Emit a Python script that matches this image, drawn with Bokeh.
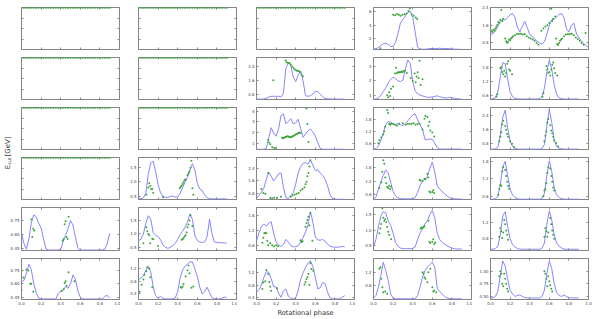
import math
from bokeh.plotting import figure
from bokeh.models import Range1d, FixedTicker, LinearAxis, Label
from bokeh.layouts import row, column
from bokeh.embed import file_html
from bokeh.resources import INLINE

# ---------------- data ----------------
PHASE = [0.0, 0.025, 0.05, 0.075, 0.1, 0.125, 0.15, 0.175, 0.2, 0.225,
         0.25, 0.275, 0.3, 0.325, 0.35, 0.375, 0.4, 0.425, 0.45, 0.475,
         0.5, 0.525, 0.55, 0.575, 0.6, 0.625, 0.65, 0.675, 0.7, 0.725,
         0.75, 0.775, 0.8, 0.825, 0.85, 0.875, 0.9]
PHASE_EXT = PHASE + [0.925, 0.95, 0.975, 1.0]

X_TICKS = [0.0, 0.2, 0.4, 0.6, 0.8, 1.0]
X_TICK_LABELS = ["0.0", "0.2", "0.4", "0.6", "0.8", "1.0"]

EMPTY_PANELS = ["R1C1", "R1C2", "R1C3", "R2C1", "R2C2", "R3C1", "R3C2", "R4C1"]
EMPTY_E = [1.0] * 37  # all E_cut values sit at the top of these panels

# light curves (blue)
R1C4_LC = [0.55, 0.58, 0.75, 1.05, 1.3, 1.38, 1.2, 0.9, 0.9, 1.5,
           2.8, 4.3, 4.8, 5.3, 5.8, 6.0, 5.1, 3.0, 0.8, 0.55,
           0.5, 0.5, 0.55, 0.6, 0.62, 0.6, 0.62, 0.65, 0.62, 0.6,
           0.62, 0.58, 0.55, 0.52, 0.5, 0.5, 0.5]
R1C5_LC = [1.18, 1.22, 1.35, 1.55, 1.78, 1.85, 1.85, 1.95, 2.08, 2.13,
           1.95, 1.5, 1.3, 1.55, 1.78, 1.5, 1.18, 1.1, 0.98, 0.88,
           0.8, 0.74, 0.85, 1.2, 1.6, 1.85, 1.88, 1.98, 2.1, 2.13,
           1.95, 1.45, 1.3, 1.6, 1.7, 1.25, 1.05, 0.9, 0.78, 0.68,
           0.6]
R2C3_LC = [0.56, 0.56, 0.56, 0.57, 0.60, 0.68, 0.72, 0.72, 0.72, 0.72,
           0.68, 0.90, 2.30, 2.60, 2.45, 1.80, 1.55, 1.90, 2.15, 1.60,
           0.75, 0.72, 0.75, 0.85, 1.00, 0.98, 0.85, 0.70, 0.60, 0.58,
           0.57, 0.56, 0.56, 0.56, 0.56, 0.56, 0.56]
R2C4_LC = [0.72, 0.73, 0.80, 1.00, 1.25, 1.50, 1.85, 2.10, 2.25, 2.15,
           2.00, 1.95, 2.05, 2.80, 3.45, 3.20, 1.95, 1.30, 1.10, 1.00,
           0.95, 0.90, 0.85, 0.85, 0.88, 0.92, 0.95, 0.90, 0.85, 0.82,
           0.80, 0.85, 0.83, 0.78, 0.76, 0.74, 0.73]
R2C5_LC = [0.45, 0.46, 0.50, 0.75, 1.40, 2.00, 1.95, 1.30, 0.75, 0.55,
           0.48, 0.46, 0.45, 0.45, 0.45, 0.45, 0.45, 0.45, 0.45, 0.45,
           0.47, 0.55, 0.90, 1.60, 2.10, 1.70, 1.05, 0.65, 0.50, 0.47,
           0.45, 0.45, 0.45, 0.45, 0.45, 0.45, 0.45]
R3C3_LC = [0.42, 0.42, 0.42, 0.43, 0.50, 1.50, 2.45, 1.95, 1.65, 2.30,
           3.60, 3.75, 2.80, 3.05, 3.30, 2.80, 2.90, 3.25, 2.40, 1.55,
           1.85, 2.15, 2.32, 2.05, 1.65, 1.05, 0.50, 0.42, 0.42, 0.42,
           0.42, 0.42, 0.42, 0.42, 0.42, 0.42, 0.42]
R3C4_LC = [0.30, 0.32, 0.45, 0.75, 1.15, 1.55, 1.72, 1.68, 1.60, 1.55,
           1.62, 1.55, 1.50, 1.60, 1.75, 1.90, 2.05, 2.10, 1.80, 1.55,
           1.30, 0.80, 0.78, 0.82, 0.80, 0.60, 0.38, 0.31, 0.30, 0.30,
           0.30, 0.30, 0.30, 0.30, 0.30, 0.30, 0.30]
R3C5_LC = [0.50, 0.50, 0.52, 0.60, 1.30, 2.30, 2.70, 1.70, 0.95, 0.65,
           0.55, 0.51, 0.50, 0.50, 0.50, 0.50, 0.50, 0.50, 0.50, 0.50,
           0.50, 0.52, 0.75, 1.80, 2.75, 2.00, 1.00, 0.65, 0.55, 0.52,
           0.50, 0.50, 0.50, 0.50, 0.50, 0.50, 0.50]
R4C2_LC = [0.42, 0.42, 0.45, 0.60, 1.25, 1.65, 1.70, 1.35, 0.90, 0.62,
           0.50, 0.47, 0.46, 0.50, 0.50, 0.47, 0.48, 0.60, 0.80, 0.98,
           1.15, 1.40, 1.62, 1.40, 0.95, 0.75, 0.70, 0.55, 0.45, 0.42,
           0.41, 0.41, 0.41, 0.41, 0.41, 0.41, 0.41]
R4C3_LC = [0.50, 0.70, 0.90, 1.15, 1.70, 2.15, 1.90, 1.60, 1.80, 2.05,
           2.10, 1.20, 0.55, 0.50, 0.70, 0.85, 1.40, 2.10, 2.50, 2.70,
           2.75, 2.65, 2.90, 2.60, 2.25, 2.30, 2.10, 1.95, 1.70, 1.30,
           0.75, 0.50, 0.46, 0.45, 0.45, 0.45, 0.45]
R4C4_LC = [0.42, 0.50, 0.85, 1.15, 1.45, 1.68, 1.55, 1.15, 0.75, 0.55,
           0.47, 0.44, 0.43, 0.43, 0.43, 0.43, 0.44, 0.48, 0.70, 1.00,
           1.20, 1.28, 1.40, 1.75, 2.02, 1.60, 1.00, 0.85, 0.75, 0.65,
           0.55, 0.48, 0.45, 0.43, 0.42, 0.42, 0.42]
R4C5_LC = [0.50, 0.50, 0.52, 0.60, 1.00, 1.60, 1.80, 1.30, 0.85, 0.65,
           0.56, 0.52, 0.50, 0.50, 0.50, 0.50, 0.50, 0.50, 0.50, 0.50,
           0.50, 0.52, 0.70, 1.30, 1.82, 1.45, 0.90, 0.65, 0.56, 0.52,
           0.50, 0.50, 0.50, 0.50, 0.50, 0.50, 0.50]
R5C1_LC = [0.61, 0.50, 0.44, 0.55, 0.72, 0.81, 0.79, 0.72, 0.67, 0.55,
           0.44, 0.43, 0.43, 0.43, 0.43, 0.43, 0.44, 0.52, 0.59, 0.66,
           0.75, 0.70, 0.57, 0.45, 0.43, 0.43, 0.43, 0.43, 0.43, 0.43,
           0.43, 0.43, 0.43, 0.43, 0.44, 0.50, 0.61]
R5C2_LC = [0.75, 0.80, 1.00, 1.40, 1.68, 1.55, 1.05, 0.95, 0.90, 0.78,
           0.58, 0.50, 0.46, 0.50, 0.56, 0.65, 0.80, 0.97, 1.10, 1.25,
           1.45, 1.75, 1.55, 0.95, 0.75, 0.70, 0.68, 0.70, 0.90, 1.55,
           1.00, 0.70, 0.68, 0.67, 0.67, 0.66, 0.66]
R5C3_LC = [0.80, 1.10, 1.35, 1.47, 1.38, 1.50, 1.55, 1.10, 0.75, 0.62,
           0.57, 0.65, 0.85, 0.75, 0.60, 0.56, 0.56, 0.60, 0.74, 0.92,
           1.15, 1.42, 1.95, 1.55, 0.95, 0.83, 0.82, 0.85, 0.78, 0.66,
           0.58, 0.55, 0.54, 0.54, 0.55, 0.58, 0.55]
R5C4_LC = [0.45, 0.70, 1.10, 1.45, 1.60, 1.55, 1.30, 1.15, 0.90, 0.60,
           0.48, 0.42, 0.40, 0.40, 0.40, 0.40, 0.41, 0.45, 0.70, 0.90,
           1.05, 1.20, 1.30, 1.50, 1.63, 1.40, 0.90, 0.70, 0.60, 0.55,
           0.50, 0.45, 0.42, 0.40, 0.39, 0.39, 0.39]
R5C5_LC = [0.55, 0.55, 0.57, 0.62, 0.90, 1.35, 1.45, 1.10, 0.80, 0.66,
           0.60, 0.57, 0.55, 0.55, 0.55, 0.55, 0.55, 0.55, 0.55, 0.55,
           0.55, 0.57, 0.70, 1.15, 1.47, 1.25, 0.90, 0.70, 0.62, 0.58,
           0.55, 0.55, 0.55, 0.55, 0.55, 0.55, 0.55]
R6C1_LC = [0.62, 0.64, 0.72, 0.82, 0.76, 0.60, 0.50, 0.44, 0.43, 0.43,
           0.43, 0.43, 0.43, 0.43, 0.43, 0.49, 0.52, 0.53, 0.57, 0.55,
           0.60, 0.70, 0.65, 0.52, 0.45, 0.43, 0.43, 0.43, 0.43, 0.43,
           0.43, 0.43, 0.43, 0.43, 0.46, 0.47, 0.44]
R6C2_LC = [0.85, 0.90, 0.97, 1.15, 1.27, 1.10, 0.60, 0.32, 0.25, 0.30,
           0.24, 0.22, 0.22, 0.22, 0.22, 0.25, 0.45, 0.90, 1.15, 1.28,
           1.35, 1.42, 1.42, 1.20, 0.95, 0.60, 0.38, 0.45, 0.60, 0.42,
           0.26, 0.23, 0.22, 0.22, 0.24, 0.28, 0.25]
R6C3_LC = [0.58, 0.65, 0.80, 1.04, 1.22, 1.20, 1.00, 0.75, 0.74, 0.55,
           0.42, 0.62, 0.68, 0.45, 0.38, 0.37, 0.40, 0.62, 0.98, 1.18,
           1.35, 1.48, 1.56, 1.38, 1.05, 0.68, 0.72, 0.88, 0.85, 0.58,
           0.40, 0.37, 0.37, 0.37, 0.37, 0.42, 0.47]
R6C4_LC = [0.42, 0.50, 0.75, 1.10, 1.50, 1.25, 0.95, 0.55, 0.42, 0.40,
           0.40, 0.40, 0.40, 0.40, 0.40, 0.40, 0.40, 0.40, 0.50, 0.75,
           1.05, 1.25, 1.35, 1.43, 1.50, 1.35, 0.72, 0.62, 0.55, 0.47,
           0.43, 0.41, 0.40, 0.40, 0.40, 0.40, 0.40]
R6C5_LC = [0.47, 0.47, 0.50, 0.60, 0.90, 1.20, 1.10, 0.85, 0.62, 0.55,
           0.50, 0.52, 0.53, 0.50, 0.48, 0.47, 0.47, 0.47, 0.47, 0.47,
           0.47, 0.50, 0.62, 0.95, 1.20, 1.05, 0.75, 0.58, 0.52, 0.50,
           0.53, 0.50, 0.48, 0.47, 0.47, 0.47, 0.47]

# E_cut points (green): phase and value
R1C4_PX = [0.07, 0.2, 0.22, 0.24, 0.26, 0.276, 0.296, 0.316, 0.337, 0.357, 0.37, 0.39, 0.41, 0.43, 0.446]
R1C4_PY = [0.66, 5.5, 5.4, 5.6, 5.5, 5.33, 5.47, 5.57, 5.66, 6.04, 6.4, 5.57, 5.33, 5.1, 4.86]
R1C5_PX = [0.01, 0.02, 0.03, 0.04, 0.05, 0.06, 0.07, 0.08, 0.09, 0.10, 0.11, 0.12, 0.13,
           0.15, 0.16, 0.17, 0.18, 0.19, 0.20, 0.21, 0.22, 0.23, 0.25, 0.27, 0.29, 0.31, 0.33,
           0.35, 0.37, 0.39, 0.41, 0.43, 0.45, 0.47, 0.49,
           0.52, 0.54, 0.56, 0.58, 0.60, 0.62, 0.63, 0.64, 0.66,
           0.67, 0.68, 0.69, 0.70, 0.71, 0.72, 0.73, 0.75, 0.77, 0.79, 0.81, 0.83, 0.85,
           0.87, 0.89, 0.91, 0.93, 0.95, 0.97]
R1C5_PY = [1.35, 1.30, 1.40, 1.35, 1.45, 1.55, 1.62, 1.75, 1.70, 1.85, 2.30, 1.80, 1.90,
           1.00, 0.88, 0.80, 0.85, 0.95, 0.92, 1.00, 1.05, 1.10, 1.15, 1.20, 1.20, 1.22, 1.18,
           1.20, 1.10, 1.05, 1.00, 0.95, 0.90, 0.80, 0.72,
           1.35, 1.45, 1.55, 1.60, 1.70, 2.35, 1.80, 1.90, 2.00,
           1.00, 0.75, 0.70, 0.80, 0.90, 0.95, 1.00, 1.10, 1.18, 1.20, 1.20, 1.22, 1.15,
           1.05, 0.98, 0.90, 0.80, 0.72, 1.25]
R2C3_PX = [0.171, 0.298, 0.308, 0.322, 0.336, 0.349, 0.363, 0.377, 0.39, 0.404, 0.418, 0.432, 0.445, 0.459, 0.473]
R2C3_PY = [1.62, 2.73, 2.64, 2.59, 2.59, 2.51, 2.4, 2.31, 2.23, 2.18, 2.14, 2.14, 2.07, 1.95, 1.84]
R2C4_PX = [0.14, 0.15, 0.16, 0.17, 0.18, 0.20, 0.22, 0.23, 0.24, 0.25, 0.26, 0.27, 0.28, 0.29,
           0.30, 0.31, 0.32, 0.34, 0.38, 0.40, 0.42, 0.43, 0.44, 0.45, 0.46, 0.47, 0.48, 0.50]
R2C4_PY = [1.00, 0.85, 1.20, 0.95, 1.45, 1.60, 2.50, 2.90, 2.55, 2.60, 2.58, 2.62, 2.60, 2.65,
           2.62, 2.68, 2.70, 2.55, 2.20, 2.00, 2.50, 1.90, 2.30, 2.60, 2.20, 3.40, 1.70, 2.10]
R2C5_PX = [0.06, 0.07, 0.10, 0.11, 0.12, 0.13, 0.14, 0.15, 0.16, 0.17, 0.18, 0.19, 0.20, 0.22,
           0.53, 0.54, 0.57, 0.58, 0.59, 0.60, 0.61, 0.62, 0.63, 0.64, 0.65, 0.66, 0.68]
R2C5_PY = [0.55, 0.65, 1.75, 1.80, 1.60, 1.50, 1.65, 1.40, 1.55, 1.95, 2.05, 1.70, 1.65, 1.50,
           0.55, 0.70, 1.85, 1.70, 1.55, 1.60, 1.45, 1.70, 1.90, 2.00, 1.75, 1.55, 1.45]
R3C3_PX = [0.12, 0.13, 0.14, 0.16, 0.18, 0.20,
           0.26, 0.27, 0.28, 0.29, 0.30, 0.31, 0.32, 0.33, 0.34, 0.35,
           0.36, 0.37, 0.38, 0.39, 0.40, 0.41, 0.42, 0.43, 0.44, 0.45,
           0.51, 0.52, 0.53]
R3C3_PY = [1.30, 1.05, 0.90, 0.60, 0.55, 0.55,
           1.50, 1.45, 1.50, 1.55, 1.60, 1.62, 1.65, 1.60, 1.58, 1.55,
           1.60, 1.65, 1.70, 1.75, 1.80, 1.85, 1.90, 1.95, 2.00, 1.95,
           4.25, 2.80, 1.10]
R3C4_PX = [0.05, 0.06, 0.08, 0.10, 0.11, 0.12, 0.14, 0.15, 0.16, 0.17,
           0.18, 0.20, 0.22, 0.24, 0.26, 0.30, 0.33, 0.35, 0.37, 0.39,
           0.41, 0.43, 0.45, 0.47, 0.50, 0.52, 0.53, 0.55, 0.56, 0.57,
           0.58, 0.60, 0.62]
R3C4_PY = [0.60, 0.75, 0.90, 1.05, 1.20, 1.45, 2.30, 2.15, 1.60, 1.55,
           1.60, 1.58, 1.55, 1.50, 1.60, 1.62, 1.55, 1.60, 1.58, 1.60,
           1.62, 1.55, 1.58, 1.60, 1.30, 1.85, 2.00, 1.95, 1.50, 1.70,
           1.25, 1.15, 0.95]
R3C5_PX = [0.09, 0.10, 0.11, 0.12, 0.13, 0.15, 0.16, 0.17, 0.18, 0.20, 0.22, 0.24,
           0.55, 0.56, 0.57, 0.58, 0.59, 0.61, 0.62, 0.63, 0.64, 0.65, 0.67, 0.69]
R3C5_PY = [0.95, 1.20, 1.45, 1.90, 2.10, 1.80, 1.60, 1.35, 1.20, 0.95, 0.80, 0.60,
           0.95, 1.25, 1.50, 2.00, 2.20, 1.85, 1.55, 1.40, 1.20, 1.00, 0.85, 0.65]
R4C2_PX = [0.08, 0.10, 0.11, 0.12, 0.13, 0.14, 0.15, 0.25, 0.42, 0.43, 0.44,
           0.45, 0.46, 0.47, 0.48, 0.50, 0.51, 0.52, 0.53, 0.54, 0.55, 0.56]
R4C2_PY = [0.55, 0.80, 0.95, 0.85, 0.75, 0.75, 0.62, 0.47, 0.78, 0.82, 0.86,
           0.92, 0.98, 1.05, 1.08, 1.22, 1.30, 1.35, 1.48, 1.72, 0.78, 0.55]
R4C3_PX = [0.05, 0.07, 0.09, 0.12, 0.14, 0.16, 0.18, 0.21, 0.25, 0.35, 0.37, 0.39,
           0.41, 0.43, 0.45, 0.47, 0.49, 0.50, 0.51, 0.52, 0.53, 0.54, 0.55]
R4C3_PY = [1.10, 0.85, 0.80, 2.10, 0.55, 0.50, 0.55, 0.55, 0.62, 0.62, 0.70, 0.75,
           0.80, 0.85, 1.00, 1.10, 1.20, 1.40, 1.55, 1.90, 2.10, 2.50, 2.90]
R4C4_PX = [0.06, 0.08, 0.09, 0.10, 0.11, 0.12, 0.13, 0.14, 0.15, 0.16, 0.17, 0.18,
           0.47, 0.48, 0.50, 0.52, 0.53, 0.55, 0.56, 0.57, 0.58, 0.60, 0.61, 0.62]
R4C4_PY = [0.90, 1.15, 1.60, 2.10, 1.95, 1.35, 1.10, 0.95, 0.90, 1.00, 0.85, 0.95,
           1.25, 1.22, 1.20, 1.30, 1.28, 1.50, 1.35, 0.75, 0.70, 0.72, 0.80, 0.68]
R4C5_PX = [0.08, 0.09, 0.10, 0.11, 0.12, 0.13, 0.15, 0.16, 0.17, 0.18, 0.19,
           0.54, 0.55, 0.56, 0.57, 0.58, 0.59, 0.61, 0.62, 0.63, 0.64, 0.65]
R4C5_PY = [0.65, 0.85, 1.00, 0.95, 1.45, 1.60, 1.50, 1.30, 1.10, 0.95, 0.85,
           0.60, 0.80, 0.85, 1.05, 1.40, 1.60, 1.55, 1.30, 1.10, 0.90, 0.80]
R5C1_PX = [0.10, 0.11, 0.12, 0.13, 0.42, 0.43, 0.44, 0.45, 0.46, 0.47, 0.48]
R5C1_PY = [0.76, 0.57, 0.66, 0.64, 0.53, 0.55, 0.71, 0.74, 0.57, 0.55, 0.79]
R5C2_PX = [0.05, 0.08, 0.09, 0.10, 0.11, 0.12, 0.14, 0.15, 0.20, 0.44,
           0.45, 0.46, 0.47, 0.48, 0.49, 0.50, 0.51, 0.52, 0.53, 0.55]
R5C2_PY = [0.65, 1.25, 1.10, 1.00, 0.95, 0.65, 0.82, 0.80, 0.55, 0.78,
           0.80, 0.85, 0.90, 0.95, 1.05, 1.25, 1.35, 1.50, 1.70, 1.30]
R5C3_PX = [0.06, 0.07, 0.08, 0.09, 0.10, 0.11, 0.12, 0.14, 0.16, 0.18, 0.20,
           0.22, 0.45, 0.46, 0.47, 0.50, 0.51, 0.52, 0.53, 0.54, 0.55, 0.57]
R5C3_PY = [0.72, 0.92, 1.10, 1.12, 1.10, 0.80, 0.62, 0.70, 0.62, 0.58, 0.62,
           0.58, 0.82, 0.75, 0.78, 1.35, 1.50, 1.62, 1.75, 1.40, 1.90, 0.80]
R5C4_PX = [0.06, 0.07, 0.08, 0.09, 0.10, 0.11, 0.12, 0.13, 0.14, 0.15, 0.16, 0.18,
           0.48, 0.49, 0.50, 0.51, 0.52, 0.56, 0.57, 0.58, 0.60, 0.61, 0.62, 0.63]
R5C4_PY = [0.90, 1.05, 1.20, 1.70, 1.40, 1.30, 1.35, 1.25, 1.10, 0.95, 0.85, 0.70,
           1.05, 1.08, 1.06, 1.10, 1.12, 1.30, 0.62, 0.58, 0.62, 0.70, 0.55, 0.60]
R5C5_PX = [0.09, 0.10, 0.11, 0.12, 0.13, 0.14, 0.15, 0.16, 0.17, 0.18,
           0.55, 0.56, 0.57, 0.58, 0.59, 0.61, 0.62, 0.63, 0.64, 0.65]
R5C5_PY = [0.85, 1.05, 0.98, 0.82, 0.95, 1.25, 1.15, 1.00, 0.90, 0.78,
           0.85, 1.05, 0.98, 0.85, 0.95, 1.30, 1.15, 1.00, 0.90, 0.80]
R6C1_PX = [0.00, 0.02, 0.05, 0.07, 0.09, 0.10, 0.12, 0.41, 0.43, 0.44, 0.45, 0.46, 0.48, 0.54]
R6C1_PY = [0.53, 0.67, 0.76, 0.75, 0.60, 0.60, 0.51, 0.52, 0.54, 0.61, 0.63, 0.58, 0.73, 0.63]
R6C2_PX = [0.01, 0.03, 0.05, 0.06, 0.08, 0.09, 0.11, 0.12, 0.14, 0.43,
           0.44, 0.45, 0.46, 0.48, 0.50, 0.51, 0.52, 0.54, 0.56]
R6C2_PY = [0.45, 0.68, 0.85, 1.00, 1.12, 1.25, 1.20, 0.92, 0.60, 0.60,
           0.58, 0.62, 0.70, 0.95, 1.15, 1.30, 1.05, 0.58, 0.62]
R6C3_PX = [0.06, 0.07, 0.09, 0.10, 0.12, 0.13, 0.14, 0.15, 0.21,
           0.49, 0.50, 0.51, 0.52, 0.53, 0.54, 0.55, 0.56, 0.58]
R6C3_PY = [0.68, 0.88, 0.92, 1.27, 1.15, 0.90, 0.75, 0.62, 0.70,
           0.82, 0.90, 0.98, 1.05, 1.15, 0.80, 1.48, 1.30, 1.25]
R6C4_PX = [0.06, 0.07, 0.08, 0.09, 0.10, 0.12, 0.14, 0.50, 0.51,
           0.52, 0.53, 0.55, 0.56, 0.58, 0.60, 0.61, 0.62, 0.64]
R6C4_PY = [1.30, 1.35, 1.00, 0.75, 0.60, 0.62, 0.55, 1.20, 1.15,
           1.05, 1.00, 0.90, 1.20, 1.30, 0.75, 0.62, 0.65, 0.60]
R6C5_PX = [0.09, 0.10, 0.11, 0.12, 0.13, 0.14, 0.15, 0.16, 0.17, 0.18,
           0.55, 0.56, 0.57, 0.58, 0.59, 0.60, 0.61, 0.62, 0.63]
R6C5_PY = [0.90, 1.00, 0.95, 0.75, 0.70, 0.95, 0.85, 0.75, 0.65, 0.60,
           1.00, 0.95, 0.85, 0.70, 0.90, 0.80, 0.72, 0.65, 0.60]

# y tick values and labels
Y_TICKS = {
    "R1C4": ([2, 4, 6], ["2", "4", "6"]),
    "R1C5": ([0.8, 1.6, 2.4], ["0.8", "1.6", "2.4"]),
    "R2C3": ([0.8, 1.6, 2.4], ["0.8", "1.6", "2.4"]),
    "R2C4": ([1, 2, 3], ["1", "2", "3"]),
    "R2C5": ([0.6, 1.2, 1.8], ["0.6", "1.2", "1.8"]),
    "R3C3": ([1, 2, 3, 4], ["1", "2", "3", "4"]),
    "R3C4": ([0.6, 1.2, 1.8], ["0.6", "1.2", "1.8"]),
    "R3C5": ([0.8, 1.6, 2.4], ["0.8", "1.6", "2.4"]),
    "R4C2": ([0.5, 1.0, 1.5], ["0.5", "1.0", "1.5"]),
    "R4C3": ([0.8, 1.6, 2.4], ["0.8", "1.6", "2.4"]),
    "R4C4": ([0.6, 1.2, 1.8], ["0.6", "1.2", "1.8"]),
    "R4C5": ([0.6, 1.2, 1.8], ["0.6", "1.2", "1.8"]),
    "R5C1": ([0.45, 0.6, 0.75], ["0.45", "0.60", "0.75"]),
    "R5C2": ([0.5, 1.0, 1.5], ["0.5", "1.0", "1.5"]),
    "R5C3": ([0.6, 1.2, 1.8], ["0.6", "1.2", "1.8"]),
    "R5C4": ([0.5, 1.0, 1.5], ["0.5", "1.0", "1.5"]),
    "R5C5": ([0.8, 1.2], ["0.8", "1.2"]),
    "R6C1": ([0.45, 0.6, 0.75], ["0.45", "0.60", "0.75"]),
    "R6C2": ([0.4, 0.8, 1.2], ["0.4", "0.8", "1.2"]),
    "R6C3": ([0.4, 0.8, 1.2], ["0.4", "0.8", "1.2"]),
    "R6C4": ([0.8, 1.2], ["0.8", "1.2"]),
    "R6C5": ([0.5, 0.75, 1.0], ["0.50", "0.75", "1.00"]),
}
EMPTY_Y_TICKS = [0.25, 0.5, 0.75]

# ---------------- styling / layout ----------------
Y_LIMITS = {
    "R1C4": (0.47, 6.53), "R1C5": (0.5, 2.41),
    "R2C3": (0.54, 2.9), "R2C4": (0.7, 3.62), "R2C5": (0.43, 2.21),
    "R3C3": (0.4, 4.35), "R3C4": (0.28, 2.43), "R3C5": (0.48, 2.85),
    "R4C2": (0.39, 1.83), "R4C3": (0.44, 3.07), "R4C4": (0.40, 2.22), "R4C5": (0.49, 1.93),
    "R5C1": (0.425, 0.89), "R5C2": (0.38, 1.99), "R5C3": (0.41, 2.12), "R5C4": (0.34, 1.73), "R5C5": (0.52, 1.55),
    "R6C1": (0.424, 0.885), "R6C2": (0.2, 1.53), "R6C3": (0.35, 1.63), "R6C4": (0.38, 1.61), "R6C5": (0.44, 1.25),
}

LIGHTCURVES = {
    "R1C4": R1C4_LC, "R1C5": R1C5_LC, "R2C3": R2C3_LC, "R2C4": R2C4_LC, "R2C5": R2C5_LC,
    "R3C3": R3C3_LC, "R3C4": R3C4_LC, "R3C5": R3C5_LC, "R4C2": R4C2_LC, "R4C3": R4C3_LC,
    "R4C4": R4C4_LC, "R4C5": R4C5_LC, "R5C1": R5C1_LC, "R5C2": R5C2_LC, "R5C3": R5C3_LC,
    "R5C4": R5C4_LC, "R5C5": R5C5_LC, "R6C1": R6C1_LC, "R6C2": R6C2_LC, "R6C3": R6C3_LC,
    "R6C4": R6C4_LC, "R6C5": R6C5_LC,
}
POINTS = {
    "R1C4": (R1C4_PX, R1C4_PY), "R1C5": (R1C5_PX, R1C5_PY), "R2C3": (R2C3_PX, R2C3_PY),
    "R2C4": (R2C4_PX, R2C4_PY), "R2C5": (R2C5_PX, R2C5_PY), "R3C3": (R3C3_PX, R3C3_PY),
    "R3C4": (R3C4_PX, R3C4_PY), "R3C5": (R3C5_PX, R3C5_PY), "R4C2": (R4C2_PX, R4C2_PY),
    "R4C3": (R4C3_PX, R4C3_PY), "R4C4": (R4C4_PX, R4C4_PY), "R4C5": (R4C5_PX, R4C5_PY),
    "R5C1": (R5C1_PX, R5C1_PY), "R5C2": (R5C2_PX, R5C2_PY), "R5C3": (R5C3_PX, R5C3_PY),
    "R5C4": (R5C4_PX, R5C4_PY), "R5C5": (R5C5_PX, R5C5_PY), "R6C1": (R6C1_PX, R6C1_PY),
    "R6C2": (R6C2_PX, R6C2_PY), "R6C3": (R6C3_PX, R6C3_PY), "R6C4": (R6C4_PX, R6C4_PY),
    "R6C5": (R6C5_PX, R6C5_PY),
}

FONT = "DejaVu Sans"
BLUE = "#8585ff"
GREEN = "#3aa53a"
FRAME = "#858585"
TEXT = "#444444"
FRAME_W = 98
FRAME_HEIGHTS = [42, 42, 42, 42, 43, 41]
COL_BORDERS = [(21, 1), (18, 1), (19, 1), (18, 1), (18, 10)]
ROW_BORDERS = [(7, 8), (0, 8), (0, 8), (0, 8), (0, 8), (0, 20)]
STRIP_W = 13


def style_axis(ax, ticks, labels, dim, font_px):
    ax.ticker = FixedTicker(ticks=ticks)
    ax.axis_line_color = None
    ax.major_tick_line_color = FRAME
    ax.major_tick_in = 2
    ax.major_tick_out = 0
    ax.minor_tick_line_color = None
    ax.major_label_text_font = FONT
    ax.major_label_text_color = TEXT
    if labels is None:
        ax.major_label_overrides = {t: "" for t in ticks}
        ax.major_label_text_font_size = "0px"
        ax.major_label_standoff = 0
    else:
        ax.major_label_overrides = dict(zip(ticks, labels))
        ax.major_label_text_font_size = font_px
        ax.major_label_standoff = 2


def make_panel(key, fh, bl, br, bt, bb, bottom_row):
    empty = key in EMPTY_PANELS
    y0, y1 = (0.0, 1.0) if empty else Y_LIMITS[key]
    p = figure(frame_width=FRAME_W, frame_height=fh,
               x_range=Range1d(0, 1), y_range=Range1d(y0, y1),
               output_backend="svg", toolbar_location=None, tools="",
               min_border_left=bl, min_border_right=br,
               min_border_top=bt, min_border_bottom=bb,
               background_fill_color="white", border_fill_color="white")
    p.grid.visible = False
    p.outline_line_color = FRAME
    p.outline_line_width = 1

    if empty:
        yt, yl = EMPTY_Y_TICKS, None
    else:
        yt, yl = Y_TICKS[key]
    style_axis(p.below[0], X_TICKS, X_TICK_LABELS if bottom_row else None, "x", "4px")
    style_axis(p.left[0], yt, yl, "y", "4px")
    top_ax = LinearAxis()
    style_axis(top_ax, X_TICKS, None, "x", "4px")
    p.add_layout(top_ax, "above")
    right_ax = LinearAxis()
    style_axis(right_ax, yt, None, "y", "4px")
    p.add_layout(right_ax, "right")

    if empty:
        p.scatter(x=PHASE, y=EMPTY_E, size=2.4, marker="circle",
                  fill_color=GREEN, line_color=None)
    else:
        lc = LIGHTCURVES[key]
        xs = PHASE_EXT if len(lc) == len(PHASE_EXT) else PHASE
        p.line(x=xs, y=lc, line_color=BLUE, line_width=1)
        px, py = POINTS[key]
        p.scatter(x=px, y=py, size=2.0, marker="circle",
                  fill_color=GREEN, line_color=None)
    return p


figs = {}
for r in range(1, 7):
    for c in range(1, 6):
        bl, br = COL_BORDERS[c - 1]
        if c == 1 and r <= 4:
            bl -= STRIP_W
        bt, bb = ROW_BORDERS[r - 1]
        figs[(r, c)] = make_panel(f"R{r}C{c}", FRAME_HEIGHTS[r - 1], bl, br, bt, bb, r == 6)

# x label under the middle column (on the bottom axis)
xa = figs[(6, 3)].below[0]
xa.axis_label = "Rotational phase"
xa.axis_label_text_font = FONT
xa.axis_label_text_font_size = "6.7px"
xa.axis_label_text_font_style = "normal"
xa.axis_label_text_color = "#333333"
xa.axis_label_standoff = 1

# y label strip to the left of the first column (page coordinates)
strip_h = sum(ROW_BORDERS[i][0] + FRAME_HEIGHTS[i] + ROW_BORDERS[i][1] for i in range(4))
ylab = figure(width=STRIP_W, height=strip_h, x_range=Range1d(0, STRIP_W),
              y_range=Range1d(strip_h, 0),
              x_axis_type=None, y_axis_type=None, output_backend="svg",
              toolbar_location=None, tools="", min_border_left=0, min_border_right=0,
              min_border_top=0, min_border_bottom=0, outline_line_color=None,
              background_fill_color="white", border_fill_color="white")
ylab.grid.visible = False
for txt, xx, yy, fs in [("E", 7.5, 166.5, "6.9px"), ("cut", 9.3, 160.5, "4.6px"),
                         ("[GeV]", 7.5, 146.0, "6.9px")]:
    ylab.add_layout(Label(x=xx, y=yy, text=txt, angle=math.pi / 2, text_font=FONT,
                          text_font_size=fs, text_color="#333333",
                          text_align="center", text_baseline="middle"))

col1 = column(row(ylab, column(*[figs[(r, 1)] for r in range(1, 5)])),
              figs[(5, 1)], figs[(6, 1)])
cols = [col1] + [column(*[figs[(r, c)] for r in range(1, 7)]) for c in range(2, 6)]
layout = row(*cols)

open("out.html", "w").write(file_html(layout, INLINE, "E_cut vs rotational phase"))
